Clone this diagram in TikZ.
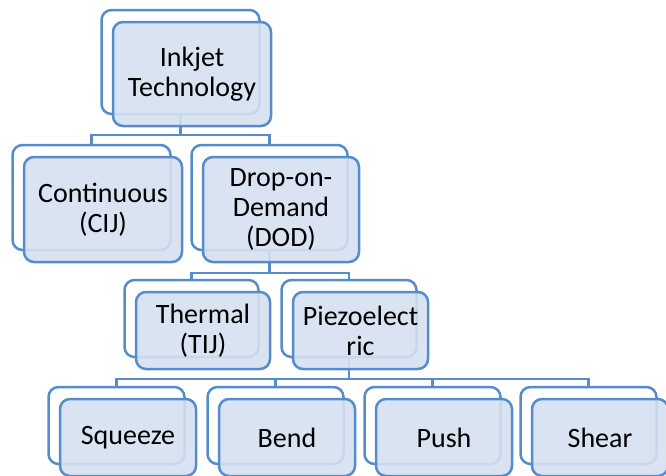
\documentclass[tikz,border=0pt]{standalone}
\usepackage{fontspec}
\setmainfont{Carlito}
\definecolor{lineblue}{RGB}{84,140,204}
\definecolor{fillblue}{RGB}{214,224,241}
\tikzset{
  backbox/.style 2 args={draw=lineblue, line width=2.5pt, rounded corners=10pt, fill=white, minimum width=#1pt, minimum height=#2pt, inner sep=0pt},
  frontbox/.style 2 args={draw=lineblue, line width=2.5pt, rounded corners=10pt, fill=fillblue, fill opacity=0.9, text opacity=1, minimum width=#1pt, minimum height=#2pt, inner sep=0pt, align=center, font=\fontsize{28}{30}\selectfont},
  conn/.style={draw=lineblue, line width=2.3pt}
}
\newcommand\hnode[6]{%
  \node[backbox={#4}{#5}] (#1b) at (#2-11.5,#3-11) {};
  \node[frontbox={#4}{#5}] (#1f) at (#2,#3+1) {#6};
}
\begin{document}
\begin{tikzpicture}[x=1pt,y=-1pt]
\useasboundingbox (0,0) rectangle (666,475);
\clip (0,0) rectangle (666,475);
% junction coordinates
\coordinate (j1) at (180.5,135);
\coordinate (j2) at (269.5,273);
\coordinate (j3) at (349,379);
% connectors (drawn first, under the boxes)
\path[conn] (180.5,115) -- (j1);
\path[conn] (j1) -| (91.5,146);
\path[conn] (j1) -| (269.5,146);
\path[conn] (269.5,251) -- (j2);
\path[conn] (j2) -| (191.5,281);
\path[conn] (j2) -| (349,281);
\path[conn] (349,358) -- (j3);
\path[conn] (j3) -| (116.5,388);
\path[conn] (j3) -| (275.5,388);
\path[conn] (j3) -| (432.5,388);
\path[conn] (j3) -| (588.5,388);
% nodes
\hnode{root}{192}{73}{158}{104}{Inkjet\\Technology}
\hnode{cont}{103}{208.5}{158}{105}{Continuous\\(CIJ)}
\hnode{dod}{281}{208.5}{156}{105}{Drop-on-\\Demand\\(DOD)}
\hnode{therm}{203}{329.5}{134}{77}{Thermal\\(TIJ)}
\hnode{piezo}{360.5}{329.5}{135}{77}{Piezoelect\\ric}
\hnode{squeeze}{128}{436.5}{136}{77}{Squeeze}
\hnode{bend}{287}{436.5}{136}{77}{Bend}
\hnode{push}{444}{436.5}{136}{77}{Push}
\hnode{shear}{600}{436.5}{136}{77}{Shear}
\end{tikzpicture}
\end{document}
